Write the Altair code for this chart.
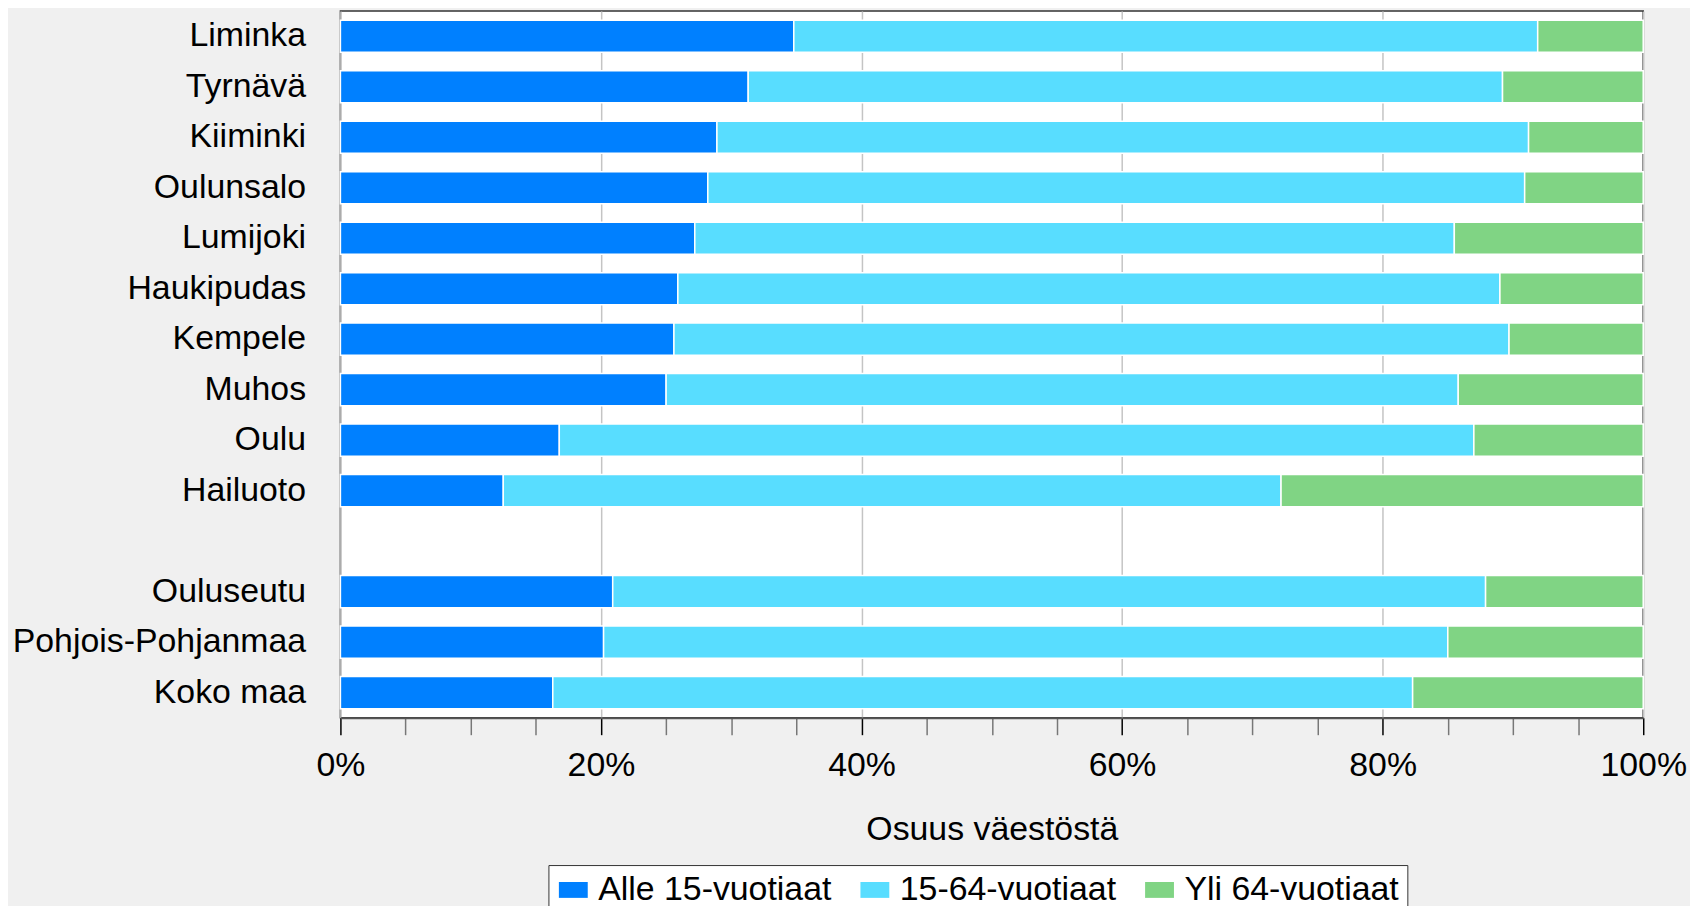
import altair as alt
import pandas as pd

areas = ["Liminka", "Tyrnävä", "Kiiminki", "Oulunsalo", "Lumijoki", "Haukipudas",
         "Kempele", "Muhos", "Oulu", "Hailuoto", "Ouluseutu", "Pohjois-Pohjanmaa", "Koko maa"]
alle15 = [34.8, 31.3, 28.9, 28.2, 27.2, 25.9, 25.6, 25.0, 16.8, 12.5, 20.9, 20.2, 16.3]
age15_64 = [57.1, 57.9, 62.3, 62.7, 58.3, 63.1, 64.1, 60.8, 70.2, 59.7, 67.0, 64.8, 66.0]
yli64 = [8.1, 10.8, 8.8, 9.1, 14.5, 11.0, 10.3, 14.2, 13.0, 27.8, 12.1, 15.0, 17.7]

groups = ["Alle 15-vuotiaat", "15-64-vuotiaat", "Yli 64-vuotiaat"]
colors = ["#0080ff", "#58ddff", "#80d484"]
y_order = areas[:10] + [" "] + areas[10:]
x_ticks = list(range(0, 101, 5))

rows = []
for i, a in enumerate(areas):
    for k, (g, vals) in enumerate(zip(groups, [alle15, age15_64, yli64])):
        rows.append({"alue": a, "ryhma": g, "osuus": vals[i], "jarj": k})
df = pd.DataFrame(rows)

chart = alt.Chart(df).mark_bar(stroke="white", strokeWidth=1.5).encode(
    y=alt.Y(
        "alue:N",
        sort=y_order,
        scale=alt.Scale(domain=y_order, paddingInner=0.363, paddingOuter=0.18),
        axis=alt.Axis(title=None, ticks=False, domain=False, labelFontSize=34,
                      labelPadding=35, labelLimit=600, labelColor="black"),
    ),
    x=alt.X(
        "osuus:Q",
        stack="zero",
        scale=alt.Scale(domain=[0, 100], nice=False),
        axis=alt.Axis(
            values=x_ticks,
            labelExpr="datum.value % 20 == 0 ? datum.value + '%' : ''",
            labelFlush=False,
            labelOverlap=False,
            labelBound=False,
            labelFontSize=34,
            labelColor="black",
            labelPadding=14,
            tickSize=17,
            tickWidth=1.5,
            tickColor={"condition": {"test": "datum.value % 20 == 0", "value": "#000000"}, "value": "#777777"},
            domainColor="#555555",
            domainWidth=2,
            gridColor="#c4c4c4",
            gridWidth=1.5,
            gridOpacity={"condition": {"test": "datum.value % 20 == 0", "value": 1}, "value": 0},
            title="Osuus väestöstä",
            titleFontSize=34,
            titleFontWeight="normal",
            titleColor="black",
            titlePadding=30,
        ),
    ),
    color=alt.Color(
        "ryhma:N",
        scale=alt.Scale(domain=groups, range=colors),
        legend=alt.Legend(
            title=None,
            orient="none",
            legendX=209,
            legendY=858,
            direction="horizontal",
            fillColor="white",
            strokeColor="#333333",
            padding=8,
            symbolType="M-1,-0.55H1V0.55H-1Z",
            symbolSize=841,
            symbolStrokeWidth=0,
            symbolOpacity=1,
            labelFontSize=34,
            labelColor="black",
            labelOffset=8,
            labelLimit=600,
            columnPadding=26,
        ),
    ),
    order=alt.Order("jarj:Q"),
).properties(
    width=1309,
    height=710,
    background="#f0f0f0",
    padding={"left": 334, "top": 1, "right": 47, "bottom": 187},
    autosize=alt.AutoSizeParams(type="none"),
).configure(
    font="Liberation Sans, Arial, sans-serif"
).configure_view(
    fill="white", stroke="#333333", strokeWidth=1.5
)

chart.save("out.html", embed_options={"renderer": "svg", "actions": False})
